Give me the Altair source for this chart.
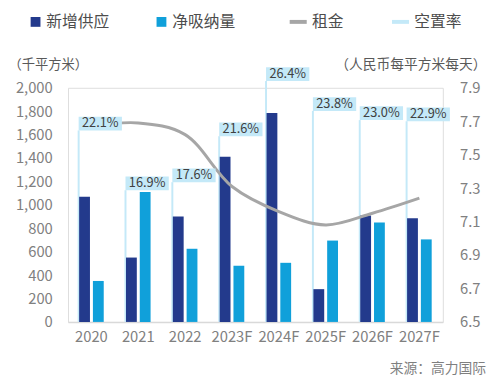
import altair as alt
import pandas as pd

years = ["2020", "2021", "2022", "2023F", "2024F", "2025F", "2026F", "2027F"]
supply = [1070, 550, 900, 1410, 1785, 280, 910, 885]          # 新增供应 (千平方米)
absorption = [350, 1110, 625, 480, 505, 695, 850, 705]        # 净吸纳量 (千平方米)
rent = [7.67, 7.69, 7.62, 7.31, 7.16, 7.08, 7.15, 7.24]       # 租金 (人民币每平方米每天)
vacancy = [22.1, 16.9, 17.6, 21.6, 26.4, 23.8, 23.0, 22.9]    # 空置率 (%)
left_ticks = [0, 200, 400, 600, 800, 1000, 1200, 1400, 1600, 1800, 2000]
right_ticks = [6.5, 6.7, 6.9, 7.1, 7.3, 7.5, 7.7, 7.9]

df = pd.DataFrame({
    "year": years,
    "supply": supply,
    "absorption": absorption,
    "rent": rent,
    "vacancy": vacancy,
    "vlabel": [f"{v:.1f}%" for v in vacancy],
})

FONT = "Noto Sans CJK SC"
NAVY = "#233a8c"
CYAN = "#10a0da"
GREY = "#a6a6a6"
LBLUE = "#c4e9f8"
VAC_MIN, VAC_MAX = 5.44, 25.81

xenc = alt.X(
    "year:N", sort=years,
    scale=alt.Scale(paddingInner=0, paddingOuter=0),
    axis=alt.Axis(title=None, labelAngle=0, ticks=False, domainColor="#d9d9d9",
                  domainWidth=1.5, labelColor="#808080", labelFontSize=15,
                  labelPadding=8, labelFont=FONT),
)

left_axis = alt.Axis(values=left_ticks, format=",.0f", grid=False, domain=False, ticks=False,
                     labelPadding=16, labelColor="#808080", labelFontSize=15, labelFont=FONT,
                     title="（千平方米）", titleAngle=0, titleAlign="left", titleBaseline="middle",
                     titleX=-61, titleY=-24, titleFontSize=13.5, titleFontWeight="normal",
                     titleColor="#595959", titleFont=FONT)

fill_scale = alt.Scale(domain=["新增供应", "净吸纳量"], range=[NAVY, CYAN])
fill_legend = alt.Legend(orient="none", legendX=-41, legendY=-75, direction="horizontal",
                         symbolType="square", symbolSize=100, title=None, padding=0,
                         columnPadding=44, labelFontSize=16, labelColor="#4d4d4d",
                         labelFont=FONT, labelOffset=3)
stroke_scale = alt.Scale(domain=["租金", "空置率"], range=[GREY, LBLUE])
stroke_legend = alt.Legend(orient="none", legendX=223, legendY=-78, direction="horizontal",
                           symbolType="stroke", symbolSize=300, symbolStrokeWidth=4,
                           title=None, padding=0, columnPadding=40, labelFontSize=16,
                           labelColor="#4d4d4d", labelFont=FONT, labelOffset=3)

base = alt.Chart(df)

vac_y = alt.Y("vacancy:Q", scale=alt.Scale(domain=[VAC_MIN, VAC_MAX], zero=False, nice=False), axis=None)

vac_rule = base.transform_calculate(s="'空置率'").mark_rule(strokeWidth=2, xOffset=-13).encode(
    x=xenc, y=vac_y, y2=alt.datum(VAC_MIN),
    stroke=alt.Stroke("s:N", scale=stroke_scale, legend=stroke_legend),
)

bar_dark = base.transform_calculate(s="'新增供应'").mark_bar(width=11, xOffset=-7).encode(
    x=xenc,
    y=alt.Y("supply:Q", scale=alt.Scale(domain=[0, 2000]), axis=left_axis),
    fill=alt.Fill("s:N", scale=fill_scale, legend=fill_legend),
)
bar_light = base.transform_calculate(s="'净吸纳量'").mark_bar(width=11, xOffset=7).encode(
    x=xenc,
    y=alt.Y("absorption:Q", scale=alt.Scale(domain=[0, 2000]), axis=left_axis),
    fill=alt.Fill("s:N", scale=fill_scale, legend=fill_legend),
)
bars = alt.layer(bar_dark, bar_light)

rent_line = base.transform_calculate(s="'租金'").mark_line(interpolate="catmull-rom", strokeWidth=3).encode(
    x=xenc,
    y=alt.Y("rent:Q", scale=alt.Scale(domain=[6.5, 7.9], zero=False, nice=False),
            axis=alt.Axis(orient="right", values=right_ticks, format=".1f", grid=False,
                          domain=False, ticks=False, labelPadding=17, labelColor="#808080",
                          labelFontSize=15, labelFont=FONT,
                          title="（人民币每平方米每天）", titleAngle=0, titleAlign="right",
                          titleBaseline="middle", titleX=44, titleY=-24, titleFontSize=14,
                          titleFontWeight="normal", titleColor="#595959", titleFont=FONT)),
    stroke=alt.Stroke("s:N", scale=stroke_scale, legend=stroke_legend),
)

vac_box = base.mark_tick(size=44, thickness=14, color=LBLUE, opacity=1,
                         xOffset=9, yOffset=-7).encode(x=xenc, y=vac_y)
vac_text = base.mark_text(xOffset=9, yOffset=-7, align="center", baseline="middle",
                          fontSize=13, font=FONT, color="#404040").encode(
    x=xenc, y=vac_y, text="vlabel:N")
vac_labels = alt.layer(vac_box, vac_text)

chart = alt.layer(vac_rule, bars, rent_line, vac_labels).resolve_scale(
    y="independent"
).properties(
    width=381, height=238,
    autosize="none",
    padding={"left": 61, "top": 78, "right": 50, "bottom": 62},
    title=alt.TitleParams("来源：高力国际", orient="bottom", anchor="end", frame="bounds",
                          fontSize=14, color="#7f7f7f", font=FONT, fontWeight="normal",
                          offset=18),
).configure_view(stroke=None).configure(background="white")

chart.save("out.html", embed_options={"renderer": "svg", "actions": False})
